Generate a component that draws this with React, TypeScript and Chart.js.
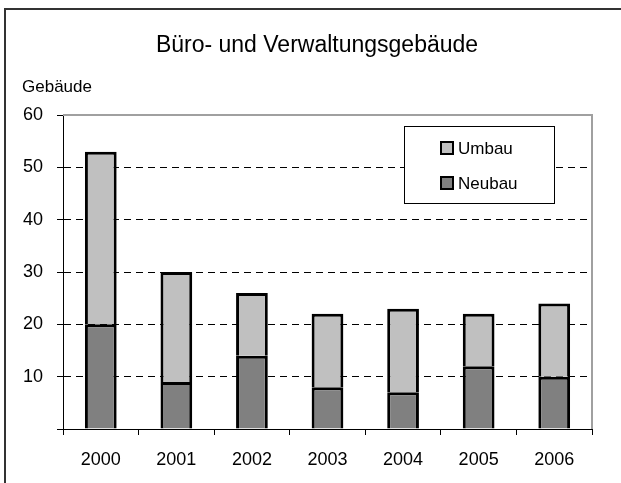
import React, { useEffect, useRef } from "react";
import { Chart, registerables } from "chart.js";

Chart.register(...registerables);

const title = "Büro- und Verwaltungsgebäude";
const yAxisLabel = "Gebäude";
const years = ["2000", "2001", "2002", "2003", "2004", "2005", "2006"];
const neubau = [20, 9, 14, 8, 7, 12, 10];
const umbau = [33, 21, 12, 14, 16, 10, 14];
const yTicks = [0, 10, 20, 30, 40, 50, 60];

const FONT = "'Liberation Sans', Arial, sans-serif";

const decorPlugin = {
  id: "decor",
  beforeDraw(chart: any) {
    const ctx = chart.ctx;
    ctx.save();
    ctx.fillStyle = "#ffffff";
    ctx.fillRect(0, 0, chart.width, chart.height);
    ctx.strokeStyle = "#333333";
    ctx.lineWidth = 2;
    ctx.strokeRect(5, 9, chart.width + 20, chart.height + 20);
    ctx.fillStyle = "#000";
    ctx.font = `23px ${FONT}`;
    ctx.textAlign = "center";
    ctx.textBaseline = "alphabetic";
    ctx.fillText(title, 317, 52);
    ctx.font = `17px ${FONT}`;
    ctx.textAlign = "left";
    ctx.fillText(yAxisLabel, 22, 92);
    ctx.restore();
  },
  beforeDatasetsDraw(chart: any) {
    const { ctx, chartArea } = chart;
    ctx.save();
    ctx.strokeStyle = "#a0a0a0";
    ctx.lineWidth = 2;
    ctx.beginPath();
    ctx.moveTo(chartArea.left, chartArea.top);
    ctx.lineTo(chartArea.right, chartArea.top);
    ctx.lineTo(chartArea.right, chartArea.bottom);
    ctx.stroke();
    ctx.restore();
  },
  afterDraw(chart: any) {
    const ctx = chart.ctx;
    const bx = 404, by = 126, bw = 150, bh = 77;
    ctx.save();
    ctx.fillStyle = "#fff";
    ctx.fillRect(bx, by, bw, bh);
    ctx.strokeStyle = "#000";
    ctx.lineWidth = 1;
    ctx.strokeRect(bx + 0.5, by + 0.5, bw, bh);
    const items = [...chart.data.datasets].reverse();
    ctx.font = `17px ${FONT}`;
    ctx.textBaseline = "middle";
    ctx.textAlign = "left";
    items.forEach((ds: any, i: number) => {
      const cy = by + 22 + i * 35;
      ctx.fillStyle = ds.backgroundColor;
      ctx.fillRect(441, cy - 6, 12, 12);
      ctx.strokeStyle = "#000";
      ctx.lineWidth = 2;
      ctx.strokeRect(441, cy - 6, 12, 12);
      ctx.fillStyle = "#000";
      ctx.fillText(ds.label, 458, cy + 1);
    });
    ctx.restore();
  },
};

export default function App() {
  const ref = useRef<HTMLCanvasElement>(null);
  useEffect(() => {
    if (!ref.current) return;
    const chart = new Chart(ref.current, {
      type: "bar",
      data: {
        labels: years,
        datasets: [
          {
            label: "Neubau",
            data: neubau,
            backgroundColor: "#808080",
            borderColor: "#000",
            borderWidth: 3,
            barPercentage: 0.42,
            categoryPercentage: 1,
          },
          {
            label: "Umbau",
            data: umbau,
            backgroundColor: "#c0c0c0",
            borderColor: "#000",
            borderWidth: 3,
            barPercentage: 0.42,
            categoryPercentage: 1,
          },
        ],
      },
      options: {
        responsive: false,
        animation: false,
        devicePixelRatio: 1,
        layout: { padding: { top: 115, right: 29, left: 0, bottom: 0 } },
        plugins: {
          legend: { display: false },
          title: { display: false },
          tooltip: { enabled: false },
        },
        scales: {
          x: {
            stacked: true,
            afterFit: (s: any) => {
              s.height = 54;
            },
            grid: {
              offset: true,
              drawOnChartArea: false,
              drawTicks: true,
              tickLength: 6,
              tickColor: "#000",
            },
            border: { color: "#000", width: 1 },
            ticks: {
              color: "#000",
              font: { family: FONT, size: 18 },
              padding: 14,
              maxRotation: 0,
            },
          },
          y: {
            stacked: true,
            min: yTicks[0],
            max: yTicks[yTicks.length - 1],
            afterFit: (s: any) => {
              s.width = 63;
            },
            afterBuildTicks: (s: any) => {
              s.ticks = yTicks.map((v) => ({ value: v }));
            },
            grid: {
              color: (c: any) =>
                c.tick && (c.tick.value === yTicks[0] || c.tick.value === yTicks[yTicks.length - 1])
                  ? "rgba(0,0,0,0)"
                  : "#000",
              lineWidth: 1,
              tickLength: 6,
              tickColor: "#000",
              tickBorderDash: [],
            },
            border: { color: "#000", width: 1, dash: [7, 5] },
            ticks: {
              color: "#000",
              font: { family: FONT, size: 18 },
              padding: 14,
              callback: (v: any) => (v === 0 ? "" : String(v)),
            },
          },
        },
      },
      plugins: [decorPlugin],
    });
    return () => chart.destroy();
  }, []);
  return (
    <div style={{ position: "absolute", left: 0, top: 0, width: 621, height: 483 }}>
      <canvas ref={ref} width={621} height={483} style={{ width: 621, height: 483, display: "block" }} />
    </div>
  );
}
